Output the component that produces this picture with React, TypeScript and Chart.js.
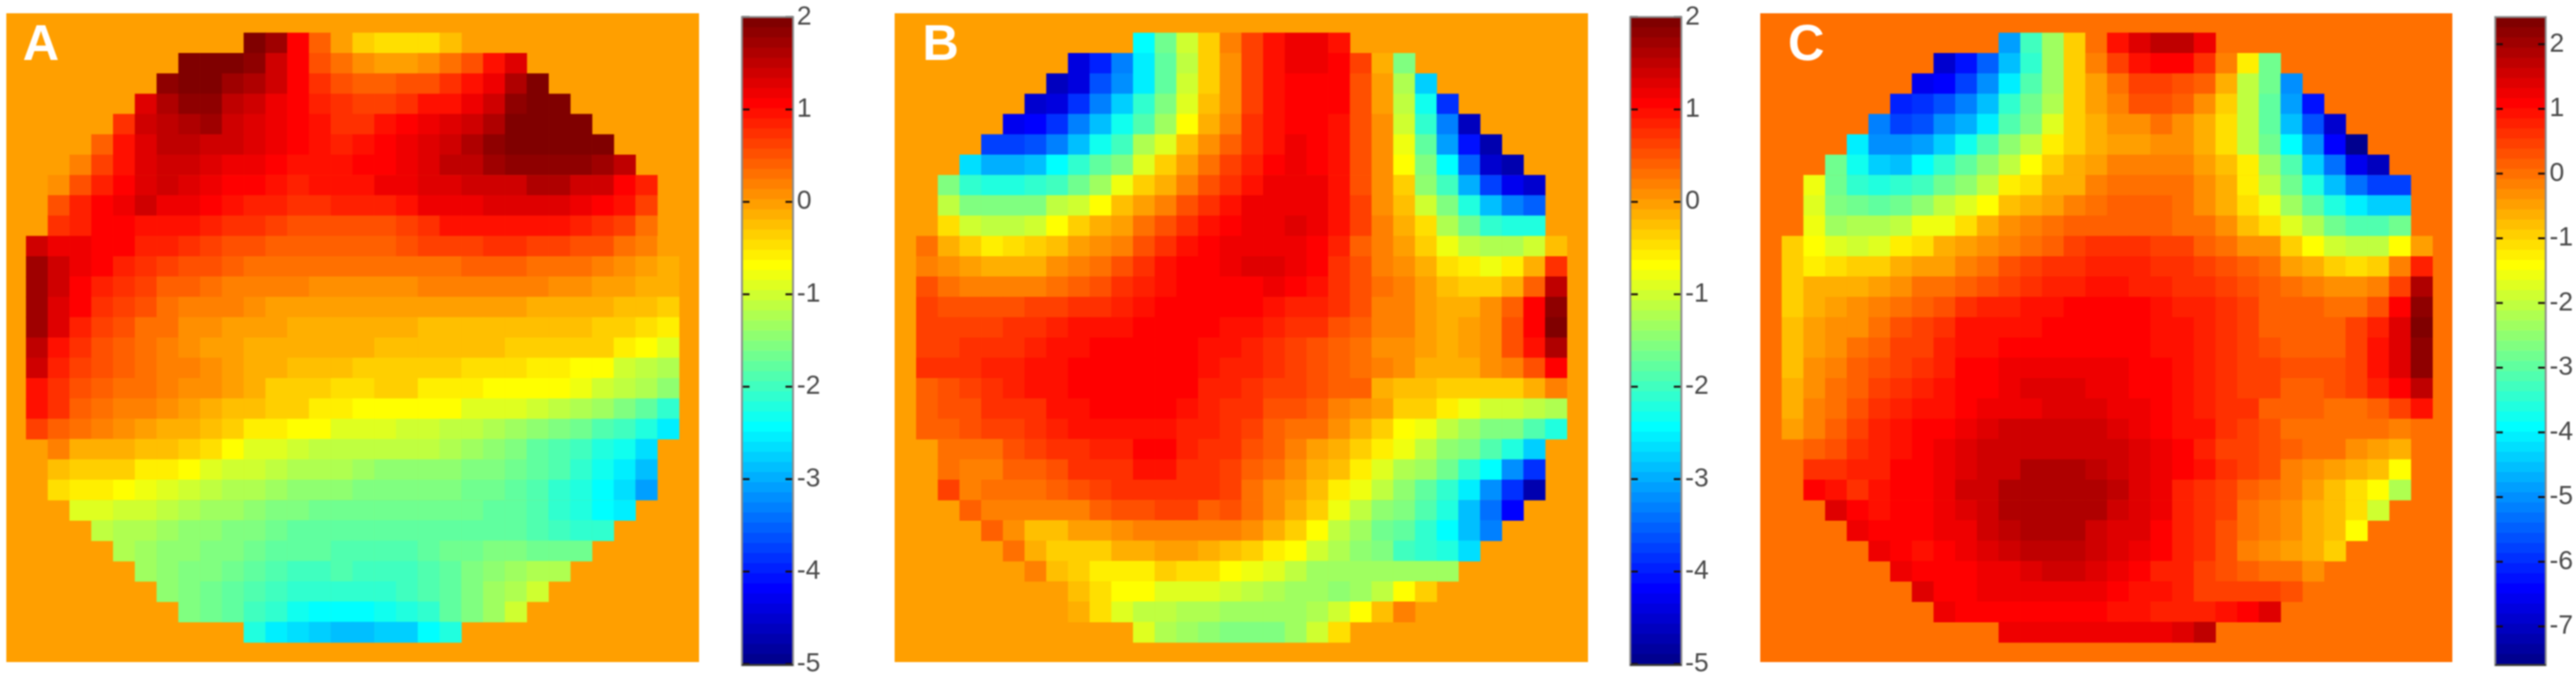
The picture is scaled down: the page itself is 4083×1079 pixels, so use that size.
import React, { useEffect, useRef } from "react";
import { Chart, registerables } from "chart.js";

Chart.register(...registerables);

const panelA: number[][] = [
  [2,1.75,1.1,.5,0,-.25,-.45,-.45,-.45,-.2],
  [2,2,2,1.9,1.5,1.1,.55,.4,.1,.05,.05,.1,.35,.6,1,1.3],
  [1.85,2,2,1.8,1.65,1.4,1.1,.8,.55,.45,.45,.55,.6,.85,1.05,1.25,1.65,1.95],
  [1.3,1.7,1.85,1.85,1.55,1.4,1.25,1.1,.95,.75,.7,.7,.8,1,1.05,1.2,1.5,1.9,2,1.95],
  [.85,1.4,1.55,1.7,1.75,1.45,1.35,1.2,1.1,1,.8,.8,1,1.1,1.25,1.3,1.45,1.65,2,2,2,1.95],
  [.45,1.05,1.35,1.55,1.6,1.5,1.4,1.3,1.2,1.1,1.05,.95,1.05,1.1,1.25,1.3,1.5,1.65,1.85,2,2,2,2,1.95],
  [.25,.65,1.05,1.3,1.5,1.5,1.35,1.25,1.2,1.1,1.05,1.05,1.05,1.1,1.15,1.25,1.3,1.55,1.6,1.75,1.85,1.85,1.85,1.85,1.75,1.55],
  [.1,.55,.95,1.1,1.3,1.5,1.3,1.25,1.15,1.1,1.05,.95,1,1.05,1.05,1.2,1.25,1.3,1.35,1.4,1.5,1.5,1.65,1.65,1.5,1.4,1.1,.9],
  [.55,.95,1.1,1.2,1.4,1.25,1.25,1.1,1,.95,.9,.85,.75,.9,.95,.95,1.05,1.2,1.25,1.25,1.35,1.35,1.35,1.35,1.2,1.15,1,.65],
  [.8,.95,1.1,1.15,1.05,1.05,1.05,.95,.85,.75,.7,.6,.6,.6,.55,.55,.7,.85,1,1.05,1,1,1,1,.95,.8,.65,.4],
  [1.4,1.25,1.2,1.1,1.1,.95,.9,.8,.7,.6,.6,.5,.5,.5,.5,.5,.5,.6,.65,.65,.7,.75,.75,.7,.65,.6,.55,.4,.25,.05],
  [1.75,1.4,1.2,1.1,.95,.8,.65,.55,.55,.5,.4,.4,.4,.4,.4,.4,.4,.4,.4,.4,.5,.5,.5,.4,.4,.35,.3,.15,.05,-.05],
  [1.75,1.45,1.15,.9,.75,.65,.5,.45,.4,.3,.25,.25,.25,.15,.15,.15,.15,.15,.25,.25,.25,.25,.25,.2,.15,.15,.05,0,-.05,-.1],
  [1.75,1.35,1.1,.8,.65,.55,.4,.25,.2,.2,.1,.05,0,0,0,0,0,0,.05,.05,.05,.05,.05,-.05,-.05,-.05,-.1,-.15,-.2,-.3],
  [1.75,1.3,.95,.65,.55,.4,.35,.15,.15,.05,0,0,-.05,-.05,-.05,-.05,-.05,-.05,-.15,-.15,-.15,-.15,-.15,-.15,-.15,-.2,-.25,-.35,-.4,-.5],
  [1.55,1.05,.8,.55,.45,.4,.25,.15,.05,.05,-.05,-.05,-.1,-.1,-.1,-.1,-.2,-.2,-.2,-.2,-.2,-.2,-.3,-.3,-.3,-.3,-.35,-.5,-.6,-.8],
  [1.45,.95,.7,.55,.5,.4,.3,.2,.1,.05,-.05,-.1,-.2,-.2,-.2,-.3,-.3,-.3,-.3,-.3,-.4,-.4,-.4,-.5,-.55,-.6,-.65,-.9,-1.05,-1.2],
  [1.05,.8,.55,.45,.4,.35,.25,.15,.1,.05,-.1,-.25,-.25,-.25,-.4,-.4,-.35,-.35,-.5,-.5,-.5,-.6,-.65,-.65,-.65,-.75,-.9,-1.05,-1.2,-1.4],
  [1.05,.75,.5,.35,.3,.2,.15,.05,-.1,-.15,-.2,-.35,-.35,-.5,-.5,-.6,-.65,-.65,-.65,-.65,-.8,-.85,-.85,-.95,-1.05,-1.15,-1.3,-1.5,-1.75,-2],
  [.7,.5,.35,.25,.15,.05,-.05,-.1,-.2,-.25,-.5,-.5,-.6,-.65,-.8,-.8,-.85,-.95,-1,-1.05,-1.05,-1.15,-1.25,-1.4,-1.55,-1.65,-1.85,-1.95,-2.15,-2.45],
  [.25,-.05,-.05,-.1,-.2,-.2,-.25,-.45,-.6,-.8,-.85,-.95,-1.05,-1.1,-1.1,-1.1,-1.1,-1.1,-1.2,-1.25,-1.4,-1.5,-1.7,-1.8,-1.95,-2.15,-2.3,-2.55],
  [-.2,-.25,-.25,-.35,-.5,-.5,-.65,-.8,-.9,-1,-1.1,-1.15,-1.15,-1.2,-1.25,-1.35,-1.35,-1.4,-1.4,-1.45,-1.5,-1.6,-1.75,-1.85,-2.05,-2.3,-2.5,-2.85],
  [-.4,-.55,-.55,-.65,-.75,-.8,-1,-1.1,-1.15,-1.2,-1.25,-1.35,-1.35,-1.4,-1.5,-1.5,-1.55,-1.55,-1.55,-1.6,-1.6,-1.7,-1.85,-2,-2.2,-2.4,-2.6,-3.05],
  [-.8,-.8,-.95,-1,-1.1,-1.2,-1.25,-1.3,-1.4,-1.45,-1.5,-1.6,-1.6,-1.6,-1.65,-1.65,-1.65,-1.6,-1.65,-1.7,-1.75,-1.85,-2.05,-2.2,-2.4,-2.5],
  [-1.1,-1.15,-1.2,-1.3,-1.35,-1.4,-1.5,-1.55,-1.65,-1.7,-1.7,-1.7,-1.7,-1.75,-1.75,-1.7,-1.7,-1.7,-1.7,-1.75,-1.85,-1.95,-2.1,-2.1],
  [-1.2,-1.3,-1.4,-1.4,-1.5,-1.55,-1.65,-1.75,-1.75,-1.75,-1.8,-1.8,-1.85,-1.8,-1.7,-1.65,-1.6,-1.55,-1.55,-1.6,-1.6,-1.6],
  [-1.25,-1.4,-1.45,-1.55,-1.65,-1.75,-1.8,-1.9,-1.9,-1.85,-1.9,-1.9,-1.9,-1.8,-1.7,-1.55,-1.4,-1.25,-1.2,-1.15],
  [-1.35,-1.45,-1.6,-1.7,-1.85,-1.95,-2,-2.05,-2.05,-2.05,-2,-1.95,-1.8,-1.7,-1.5,-1.3,-1.15,-.95],
  [-1.45,-1.6,-1.75,-1.9,-2.1,-2.3,-2.35,-2.35,-2.35,-2.3,-2.2,-2,-1.7,-1.45,-1.25,-1],
  [-2.2,-2.45,-2.6,-2.7,-2.8,-2.8,-2.75,-2.65,-2.4,-2.15],
];

const panelB: number[][] = [
  [-2.35,-1.6,-1,-.3,.2,.7,1.05,1.25,1.25,1.05],
  [-4.3,-3.9,-3.3,-2.5,-1.75,-1.1,-.35,.15,.7,1.05,1.2,1.2,1.1,.65,-.1,-1.45],
  [-4.6,-4.3,-3.6,-3.1,-2.45,-1.75,-1,-.3,.15,.7,1.05,1.15,1.15,1.1,.6,0,-1.2,-2.7],
  [-4.5,-4.3,-3.8,-3.3,-2.7,-2.05,-1.55,-.85,-.2,.15,.7,1.05,1.15,1.15,1.1,.6,.05,-1.05,-2.3,-3.8],
  [-4.2,-4.15,-3.8,-3.3,-2.8,-2.25,-1.8,-1.25,-.65,-.1,.3,.75,1.05,1.15,1.15,1.05,.6,.1,-.9,-2,-3.3,-4.6],
  [-3.65,-3.65,-3.6,-3.2,-2.8,-2.25,-1.9,-1.2,-.8,-.15,.15,.45,.85,1.05,1.2,1.15,1.05,.6,.1,-.7,-1.75,-3,-4,-4.7],
  [-2.6,-2.95,-2.95,-2.85,-2.35,-2,-1.7,-1.45,-.85,-.3,.05,.4,.7,.95,1.15,1.2,1.15,1,.6,.1,-.6,-1.5,-2.4,-3.5,-4.4,-4.7],
  [-1.55,-2.05,-2.15,-2.15,-2.1,-1.9,-1.65,-1.25,-.75,-.35,-.05,.3,.6,.85,1.05,1.2,1.25,1.2,1.05,.6,.1,-.35,-1.4,-1.95,-2.9,-3.7,-4.2,-4.5],
  [-1.05,-1.5,-1.55,-1.55,-1.5,-1.1,-.95,-.6,-.15,.05,.25,.6,.85,1.05,1.25,1.25,1.25,1.25,1.05,.65,.15,-.2,-.9,-1.5,-2.2,-2.85,-3.2,-3.5],
  [-.4,-.9,-1.05,-1.05,-.95,-.65,-.25,-.05,.05,.35,.55,.8,1,1.1,1.2,1.25,1.3,1.2,1.05,.7,.25,-.1,-.4,-1.15,-1.65,-2,-2.2,-2.15],
  [.35,-.05,-.35,-.5,-.4,-.3,-.2,0,.1,.3,.6,.8,1,1.1,1.2,1.25,1.25,1.25,1.15,.9,.5,.25,.05,-.3,-.7,-1.05,-1.2,-1.2,-1,-.2],
  [.3,.1,0,-.1,-.05,-.05,.1,.25,.4,.6,.85,1,1.1,1.15,1.2,1.3,1.3,1.2,1.15,.85,.55,.3,.15,-.05,-.45,-.55,-.7,-.55,-.1,.8],
  [.55,.4,.25,.2,.3,.3,.4,.5,.6,.75,.9,1.05,1.1,1.15,1.15,1.15,1.2,1.1,1.05,.85,.6,.35,.2,.05,-.15,-.25,-.25,-.05,.5,1.6],
  [.65,.55,.55,.55,.55,.65,.7,.8,.85,.95,1,1.1,1.1,1.1,1.15,1.1,1,.95,.9,.8,.55,.3,.2,.05,-.05,-.05,.1,.5,1.1,1.85],
  [.7,.65,.65,.65,.8,.85,.95,1.05,1.05,1.05,1.1,1.1,1.1,1.1,1.05,1,.95,.85,.75,.6,.45,.25,.2,.05,-.05,0,.15,.6,1.15,2],
  [.7,.7,.75,.75,.85,.95,1,1.05,1.1,1.1,1.1,1.1,1.1,1.05,1,.95,.85,.7,.6,.45,.35,.15,.1,0,-.05,0,.15,.6,1.05,1.7],
  [.75,.75,.75,.9,.95,1,1.05,1.1,1.1,1.1,1.1,1.1,1.1,1,.95,.9,.8,.65,.6,.45,.35,.2,.1,-.05,-.05,-.05,.1,.3,.6,1.15],
  [.45,.6,.7,.8,.9,1,1.05,1.1,1.1,1.1,1.1,1.1,1.1,.95,.9,.85,.7,.65,.6,.5,.45,-.1,-.2,-.2,-.3,-.3,-.3,-.3,-.1,.3],
  [.45,.55,.6,.75,.75,.85,1,1,1.1,1.1,1.1,1.1,1,.95,.85,.75,.6,.55,.5,.2,.15,.05,-.35,-.3,-.55,-.75,-.9,-.95,-1.1,-1.15],
  [.45,.5,.55,.65,.7,.75,.9,1,1.05,1.05,1.05,1.05,.95,.9,.85,.7,.5,.4,.35,.15,-.1,-.3,-.6,-.75,-1.05,-1.25,-1.45,-1.55,-1.85,-2.15],
  [.35,.4,.4,.55,.65,.8,.85,.95,.95,1.15,1.15,.95,.85,.75,.55,.45,.3,.05,-.1,-.25,-.5,-.75,-1.05,-1.35,-1.55,-1.85,-2.15,-2.7],
  [.35,.3,.3,.45,.45,.6,.75,.85,.85,1,1,.8,.8,.65,.45,.35,.15,-.05,-.2,-.5,-.85,-1.15,-1.3,-1.65,-2,-2.4,-3.1,-3.75],
  [.65,.25,.35,.35,.35,.5,.6,.7,.75,.75,.75,.75,.75,.7,.35,.15,.05,-.2,-.5,-.75,-1.1,-1.4,-1.75,-2,-2.45,-3.15,-3.8,-4.7],
  [.45,.2,.2,.2,.2,.3,.45,.55,.55,.7,.7,.5,.55,.35,.15,-.05,-.35,-.75,-1.05,-1.35,-1.55,-1.8,-2.2,-2.85,-3.35,-4.1],
  [.45,.15,-.15,-.15,.05,.05,.1,.25,.25,.25,.25,.2,.15,-.1,-.3,-.65,-1.05,-1.25,-1.6,-1.75,-2.05,-2.4,-2.8,-3.2],
  [.35,-.05,-.3,-.3,-.25,-.1,-.05,0,0,-.1,-.2,-.25,-.5,-.65,-.9,-1.15,-1.35,-1.55,-1.95,-2.05,-2.2,-2.55],
  [.2,-.15,-.3,-.5,-.5,-.5,-.25,-.45,-.45,-.6,-.7,-.85,-1.1,-1.25,-1.25,-1.3,-1.25,-1.25,-1.3,-1.3],
  [0,-.2,-.45,-.65,-.65,-.85,-.8,-.85,-.95,-1.1,-1.15,-1.25,-1.3,-1.35,-1.3,-1.1,-.6,-.25],
  [-.1,-.4,-.85,-1.05,-1.1,-1.15,-1.2,-1.25,-1.3,-1.3,-1.3,-1.2,-1,-.6,-.15,.3],
  [-.85,-1.2,-1.3,-1.4,-1.55,-1.55,-1.55,-1.25,-.95,-.4],
];

const panelC: number[][] = [
  [-4.8,-3.2,-2.2,-.8,0,1,1.5,1.75,1.75,1.3],
  [-6.8,-6.1,-5.4,-4.4,-3.4,-2.2,-.9,-.05,.5,1,1.15,1.15,.7,-.1,-1.1,-2.7],
  [-6.5,-6.3,-5.7,-4.9,-4,-3.1,-2.2,-.9,-.4,0,.5,.5,.35,.2,-.5,-1.9,-2.7,-4.9],
  [-6,-5.9,-5.6,-5.1,-4.4,-3.4,-2.75,-2.1,-.9,-.4,-.1,.35,.35,.2,-.3,-.8,-2,-2.9,-4.7,-6.2],
  [-5.1,-5.7,-5.5,-5,-4.6,-4,-3,-2.6,-1.7,-.8,-.5,-.3,-.3,0,-.3,-.6,-1,-2,-2.9,-4.4,-5.5,-6.8],
  [-4,-4.9,-5,-4.8,-4.3,-3.7,-3,-2.5,-1.9,-1.2,-.8,-.5,-.35,-.35,-.2,-.3,-.6,-.95,-1.9,-2.7,-3.9,-4.9,-6.3,-7.4],
  [-2.75,-3.6,-4.3,-4.4,-3.9,-3.4,-2.9,-2.5,-1.9,-1.4,-.8,-.6,-.35,-.15,-.15,-.15,-.15,-.45,-.65,-1.25,-2.2,-3,-4.3,-5.2,-6.5,-7],
  [-1.5,-2.7,-3.4,-3.5,-3.4,-3.2,-2.8,-2.4,-1.9,-1.2,-.95,-.55,-.5,-.15,0,.02,.02,.02,-.3,-.55,-1.25,-2,-2.8,-3.5,-4.5,-5.2,-5.7,-5.7],
  [-1.65,-2.6,-2.8,-2.9,-2.8,-2.4,-1.95,-1.65,-1.35,-.75,-.6,-.35,-.15,.02,.3,.3,.3,0,-.2,-.5,-.95,-1.5,-2.2,-2.9,-3.5,-4,-4.3,-4.3],
  [-1.5,-2.3,-2.1,-2.1,-1.9,-1.55,-1.45,-.95,-.5,-.3,-.15,0,.3,.3,.3,.3,.3,.15,0,-.3,-.65,-1.05,-1.6,-2.05,-2.75,-3,-3,-2.8],
  [-.8,-1.35,-1.6,-1.8,-1.6,-1.25,-1.05,-.6,-.45,-.3,-.15,.15,.3,.5,.7,.7,.7,.5,.5,.3,.15,-.2,-.3,-.8,-1.3,-1.75,-1.9,-1.9,-1.35,-.35],
  [-.8,-1.1,-1.05,-.8,-.8,-.5,-.45,-.35,-.1,.05,.35,.5,.7,.75,.85,.9,.9,.75,.7,.5,.35,.2,0,-.35,-.6,-.9,-.95,-.8,-.15,.9],
  [-.8,-.6,-.6,-.5,-.4,-.3,0,.15,.3,.4,.6,.7,.9,.9,1,1.05,.9,.8,.75,.65,.5,.4,.2,0,-.15,-.3,-.3,-.15,.55,1.9],
  [-.8,-.55,-.45,-.3,-.05,.1,.3,.45,.65,.8,.85,.95,1.05,1.1,1.1,1.15,1.1,1.05,.85,.8,.65,.5,.3,.25,.2,.15,.1,.4,1.15,2.25],
  [-.75,-.45,-.3,-.2,0,.35,.55,.75,.95,1,1,1.05,1.1,1.15,1.15,1.15,1.1,1.05,.95,.85,.7,.5,.3,.3,.3,.3,.5,.9,1.45,2.35],
  [-.7,-.35,-.2,.1,.25,.5,.6,.8,.95,1,1.15,1.15,1.17,1.17,1.17,1.15,1.1,1.05,.95,.85,.7,.5,.35,.3,.3,.3,.55,.95,1.45,2.3],
  [-.7,-.3,-.05,.25,.45,.55,.65,.9,1.15,1.15,1.3,1.3,1.35,1.35,1.35,1.25,1.15,1.1,.95,.85,.75,.6,.5,.4,.35,.35,.6,.95,1.45,2.2],
  [-.6,-.2,0,.3,.55,.75,.9,1.05,1.15,1.2,1.25,1.45,1.5,1.5,1.4,1.3,1.15,1.1,1,.9,.75,.6,.55,.3,.3,.35,.55,.85,1.1,1.8],
  [-.5,-.15,.1,.4,.65,.8,.95,1.05,1.15,1.3,1.35,1.35,1.55,1.5,1.45,1.4,1.3,1.15,1.05,.9,.75,.65,.3,.3,.3,.15,.15,.3,.6,1.05],
  [-.35,-.05,.2,.5,.8,1,1.1,1.2,1.4,1.45,1.6,1.6,1.65,1.65,1.6,1.55,1.35,1.2,1.05,.95,.7,.55,.35,.1,.1,0,0,0,-.05,0],
  [.2,.4,.65,.85,1.05,1.15,1.3,1.45,1.6,1.7,1.7,1.7,1.7,1.65,1.6,1.45,1.3,1.15,.85,.6,.5,.35,.2,.15,.05,-.2,-.4,-.55],
  [.65,.65,.85,.9,1.1,1.2,1.25,1.5,1.6,1.7,1.95,1.95,1.95,1.8,1.65,1.5,1.4,1.15,1,.75,.5,.35,-.1,-.2,-.35,-.5,-.75,-1.3],
  [1.1,.95,.75,1.05,1.15,1.2,1.25,1.6,1.65,1.9,1.95,1.95,1.95,1.95,1.8,1.45,1.3,.85,.75,.6,.2,.05,-.15,-.35,-.65,-1,-1.35,-2.05],
  [1.45,1.2,1.05,1.1,1.2,1.3,1.45,1.6,1.9,1.95,1.95,1.95,1.9,1.65,1.5,1.35,.9,.7,.55,.05,-.05,-.25,-.5,-.75,-1.05,-1.85],
  [1.4,1.15,1.1,1.15,1.3,1.4,1.6,1.75,1.9,1.95,1.9,1.7,1.5,1.45,1.15,.8,.7,.45,.15,-.15,-.25,-.55,-.7,-1.3],
  [1.4,1.15,1,1.15,1.3,1.45,1.65,1.8,1.8,1.75,1.6,1.45,1.35,1.15,.8,.65,.4,-.05,-.2,-.35,-.5,-.85],
  [1.4,1.15,1.15,1.15,1.3,1.4,1.45,1.7,1.7,1.5,1.4,1.15,.85,.8,.6,.45,.2,.05,.05,-.2],
  [1.45,1.15,1.15,1.25,1.35,1.35,1.35,1.35,1.3,1.15,1.05,.95,.8,.55,.55,.5,.5,.45],
  [1.4,1.15,1.15,1.15,1.15,1.15,1.15,1.15,1.05,1.05,.9,.85,.85,1.05,1.15,1.45],
  [1.35,1.35,1.35,1.35,1.35,1.35,1.35,1.4,1.55,1.75],
];

const rangeAB = [-5, 2];
const rangeC = [-7.58, 2.42];
const ticksAB = [2, 1, 0, -1, -2, -3, -4, -5];
const ticksC = [2, 1, 0, -1, -2, -3, -4, -5, -6, -7];
const gridColumns = Array.from({ length: 32 }, (_, i) => i);

const LEVELS = 64;
function jetLevel(level: number): string {
  const idx = Math.max(0, Math.min(LEVELS - 1, level));
  const x = (idx + 1) / LEVELS;
  const c = (v: number) => Math.round(255 * Math.max(0, Math.min(1, v)));
  const r = Math.min(4 * x - 1.5, -4 * x + 4.5);
  const g = Math.min(4 * x - 0.5, -4 * x + 3.5);
  const b = Math.min(4 * x + 0.5, -4 * x + 2.5);
  return `rgb(${c(r)},${c(g)},${c(b)})`;
}

function Heat({ rows, range, letter, box, grid, letterX }: any) {
  const ref = useRef<HTMLCanvasElement>(null);
  useEffect(() => {
    const [lo, hi] = range;
    const col = (v: number) => jetLevel(Math.round(((v - lo) / (hi - lo)) * LEVELS) - 1);
    const cells: any[] = [];
    rows.forEach((row: number[], r: number) => {
      const start = (30 - row.length) / 2 + 1;
      row.forEach((v, i) => cells.push({ x: start + i, y: [r + 1, r + 2], v }));
    });
    const chart = new Chart(ref.current!, {
      type: "bar",
      data: {
        labels: gridColumns,
        datasets: [
          {
            data: cells,
            backgroundColor: cells.map((c) => col(c.v)),
            borderWidth: 0,
            borderSkipped: false,
            barPercentage: 1,
            categoryPercentage: 1,
          },
        ],
      } as any,
      options: {
        animation: false,
        responsive: false,
        events: [],
        layout: { padding: 0 },
        plugins: { legend: { display: false }, tooltip: { enabled: false } },
        scales: {
          x: { type: "category", display: false, offset: true },
          y: { type: "linear", display: false, min: 0, max: 32, reverse: true },
        },
      } as any,
      plugins: [
        {
          id: "panelFace",
          beforeDraw(c: any) {
            c.ctx.save();
            c.ctx.fillStyle = col(0);
            c.ctx.fillRect(0, 0, c.width, c.height);
            c.ctx.restore();
          },
          afterDraw(c: any) {
            const ctx = c.ctx;
            ctx.save();
            ctx.fillStyle = "#ffffff";
            ctx.font = 'bold 80px "Liberation Sans"';
            ctx.textBaseline = "alphabetic";
            ctx.fillText(letter, letterX - grid.left, 95 - grid.top);
            ctx.restore();
          },
        },
      ],
    });
    return () => chart.destroy();
  }, []);
  return (
    <div
      style={{
        position: "absolute",
        left: box.left,
        top: box.top,
        width: box.width,
        height: box.height,
        overflow: "hidden",
        filter: "blur(1px)",
      }}
    >
      <canvas
        ref={ref}
        width={grid.width}
        height={grid.height}
        style={{ position: "absolute", left: grid.left - box.left, top: grid.top - box.top, display: "block" }}
      />
    </div>
  );
}

function ColorBar({ range, ticks, left, width, top, bottom }: any) {
  const ref = useRef<HTMLCanvasElement>(null);
  const padLeft = 4;
  const axisWidth = 60;
  const canvasHeight = 1079;
  useEffect(() => {
    const [lo, hi] = range;
    const step = (hi - lo) / LEVELS;
    const levels = Array.from({ length: LEVELS }, (_, i) => i);
    const chart = new Chart(ref.current!, {
      type: "bar",
      data: {
        labels: ["scale"],
        datasets: [
          {
            data: levels.map((i) => ({ x: "scale", y: [lo + i * step, lo + (i + 1) * step] })),
            backgroundColor: levels.map((i) => jetLevel(i)),
            borderWidth: 0,
            borderSkipped: false,
            barPercentage: 1,
            categoryPercentage: 1,
          },
        ],
      } as any,
      options: {
        animation: false,
        responsive: false,
        events: [],
        layout: { padding: { left: padLeft, top, bottom: canvasHeight - bottom, right: 0 } },
        plugins: { legend: { display: false }, tooltip: { enabled: false } },
        scales: {
          x: { type: "category", display: false, offset: true },
          y: {
            type: "linear",
            position: "right",
            min: lo,
            max: hi,
            afterBuildTicks: (s: any) => {
              s.ticks = ticks.map((value: number) => ({ value }));
            },
            afterFit: (s: any) => {
              s.width = axisWidth;
            },
            grid: { display: false, drawTicks: false },
            border: { display: false },
            ticks: {
              autoSkip: false,
              padding: 6,
              color: "#4a4a4a",
              crossAlign: "near",
              font: { family: '"Liberation Sans Narrow", "Liberation Sans"', size: 42, lineHeight: 1 },
            },
          },
        },
      } as any,
      plugins: [
        {
          id: "barFrame",
          afterDraw(c: any) {
            const { ctx, chartArea: a, scales } = c;
            ctx.save();
            ctx.fillStyle = "#1a0a0a";
            scales.y.ticks.forEach((t: any) => {
              const y = scales.y.getPixelForValue(t.value);
              ctx.fillRect(a.left, y - 1.5, 12, 3);
              ctx.fillRect(a.right - 12, y - 1.5, 12, 3);
            });
            ctx.strokeStyle = "#8a8a8a";
            ctx.lineWidth = 3;
            ctx.strokeRect(a.left, a.top, a.right - a.left, a.bottom - a.top + 2);
            ctx.fillStyle = "#3a3a3a";
            ctx.fillRect(a.left, a.bottom, a.right - a.left, 3);
            ctx.restore();
          },
        },
      ],
    });
    return () => chart.destroy();
  }, []);
  return (
    <canvas
      ref={ref}
      width={padLeft + width + axisWidth}
      height={canvasHeight}
      style={{ position: "absolute", left: left - padLeft, top: 0, display: "block", filter: "blur(0.8px)" }}
    />
  );
}

export default function App() {
  return (
    <div style={{ position: "fixed", left: 0, top: 0, width: 4083, height: 1079, overflow: "hidden", background: "#fff" }}>
      <Heat
        rows={panelA}
        range={rangeAB}
        letter="A"
        letterX={36}
        box={{ left: 10, top: 21, width: 1098, height: 1028 }}
        grid={{ left: 7, top: 20, width: 1104, height: 1030 }}
      />
      <ColorBar range={rangeAB} ticks={ticksAB} left={1176} width={81} top={22} bottom={1054} />
      <Heat
        rows={panelB}
        range={rangeAB}
        letter="B"
        letterX={1462}
        box={{ left: 1418, top: 21, width: 1099, height: 1028 }}
        grid={{ left: 1418, top: 20, width: 1100, height: 1030 }}
      />
      <ColorBar range={rangeAB} ticks={ticksAB} left={2584} width={81} top={22} bottom={1054} />
      <Heat
        rows={panelC}
        range={rangeC}
        letter="C"
        letterX={2834}
        box={{ left: 2790, top: 21, width: 1097, height: 1028 }}
        grid={{ left: 2790, top: 20, width: 1100, height: 1030 }}
      />
      <ColorBar range={rangeC} ticks={ticksC} left={3955} width={80} top={24} bottom={1054} />
    </div>
  );
}
